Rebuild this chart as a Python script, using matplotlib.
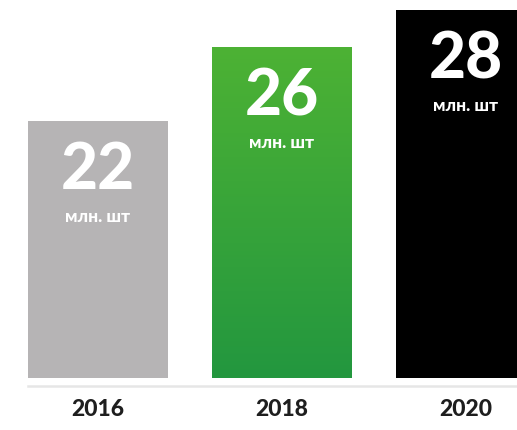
import matplotlib
matplotlib.use("Agg")
import matplotlib.pyplot as plt
import numpy as np
from matplotlib.colors import LinearSegmentedColormap

years = ["2016", "2018", "2020"]
values = [22, 26, 28]
unit = "млн. шт"
bar_colors = ["#b6b4b5", "#3aa83a", "#000000"]

fig = plt.figure(figsize=(5.17, 4.30), dpi=100)
ax = fig.add_axes([0, 52 / 430, 1, 378 / 430])
ax.set_xlim(-0.532, 2.277)
ax.set_ylim(8.108, 28.54)
ax.axis("off")

x = np.arange(len(values))
width = 0.76
bars = ax.bar(x, values, width=width, color=bar_colors, zorder=2)

# gradient for green bar
green = bars[1]
cmap = LinearSegmentedColormap.from_list("g", ["#23973f", "#4db234"])
grad = np.linspace(0, 1, 256).reshape(-1, 1)
x0 = green.get_x()
im = ax.imshow(grad, cmap=cmap, origin="lower", aspect="auto",
               extent=[x0, x0 + width, 8.108, values[1]], zorder=3)
im.set_clip_path(green)

fam = ["Lato", "Roboto", "DejaVu Sans"]
for xi, v, b in zip(x, values, bars):
    ax.annotate(str(v), (xi, v), xytext=(0, -50), textcoords="offset pixels",
                ha="center", va="center", color="white", fontsize=46,
                fontweight="black", family=fam, zorder=5)
    ax.annotate(unit, (xi, v), xytext=(0, -96), textcoords="offset pixels",
                ha="center", va="center", color="white", fontsize=12.5,
                fontweight="black", family=fam, zorder=5)

# baseline
ax.plot([-0.38, 2.6], [7.68, 7.68], color="#e6e6e6", lw=1.8, clip_on=False)

for xi, yr in zip(x, years):
    ax.annotate(yr, (xi, 8.108), xytext=(0, -32), textcoords="offset pixels",
                ha="center", va="center", color="#1e1e1e", fontsize=16.5,
                fontweight="black", family=fam, annotation_clip=False)

fig.savefig("out.png", dpi=100)
